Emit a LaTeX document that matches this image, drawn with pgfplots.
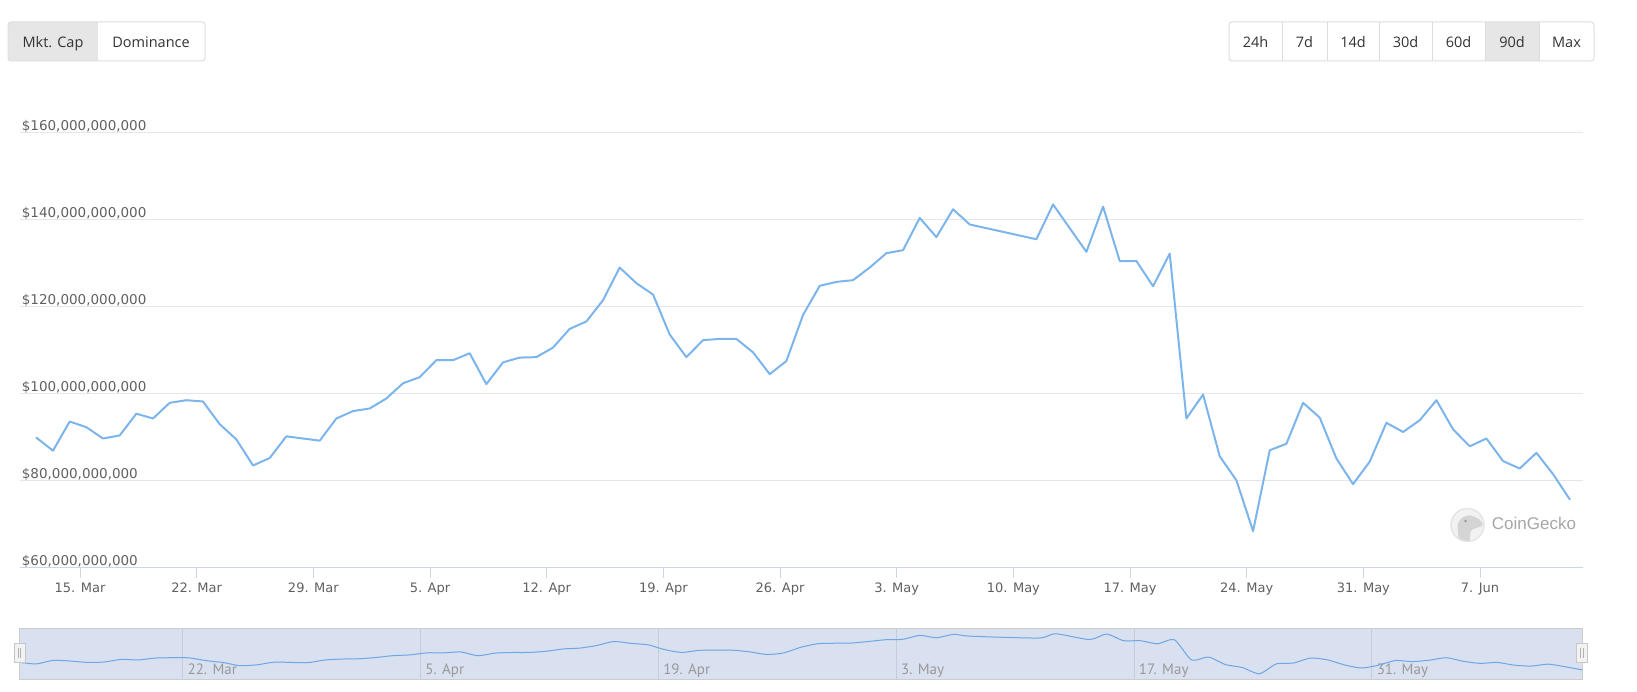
\documentclass[border=0pt]{standalone}
\usepackage{fontspec}
\setmainfont{Open Sans}
\newfontfamily\dejavu{DejaVu Sans}
\newfontfamily\ptsans{PT Sans}
\newfontfamily\libsans{Liberation Sans}
\usepackage{pgfplots}
\usepackage{pgfplotstable}
\pgfplotsset{compat=1.18}

\definecolor{hcline}{HTML}{7CB5EC}
\definecolor{hcgrid}{HTML}{E6E6E6}
\definecolor{hcaxis}{HTML}{CCD6EB}
\definecolor{labelgray}{HTML}{606060}
\definecolor{btntext}{HTML}{333333}
\definecolor{btnborder}{HTML}{DDDDDD}
\definecolor{btnsel}{HTML}{E6E6E6}
\definecolor{navfill}{HTML}{D9E0EF}
\definecolor{navline}{HTML}{6FA6E3}
\definecolor{navborder}{HTML}{CCCCCC}
\definecolor{navgrid}{HTML}{C6CCDA}
\definecolor{navlabel}{HTML}{999999}
\definecolor{wmgray}{HTML}{A6A6A6}

\pgfplotstableread{
x y
0 89.9
1 86.9
2 93.6
3 92.3
4 89.7
5 90.4
6 95.4
7 94.3
8 97.9
9 98.5
10 98.2
11 93.0
12 89.5
13 83.5
14 85.2
15 90.2
16 89.7
17 89.2
18 94.3
19 96.0
20 96.6
21 98.9
22 102.4
23 103.8
24 107.7
25 107.7
26 109.3
27 102.2
28 107.2
29 108.3
30 108.4
31 110.6
32 114.9
33 116.6
34 121.5
35 129.0
36 125.4
37 122.8
38 113.6
39 108.4
40 112.3
41 112.6
42 112.6
43 109.5
44 104.5
45 107.5
46 118.1
47 124.8
48 125.7
49 126.1
50 129.0
51 132.3
52 133.0
53 140.4
54 136.0
55 142.4
56 138.9
60 135.5
61 143.5
63 132.6
64 143.0
65 130.5
66 130.5
67 124.7
68 132.2
69 94.3
70 99.8
71 85.6
72 80.1
73 68.4
74 87.0
75 88.5
76 97.9
77 94.5
78 85.1
79 79.2
80 84.4
81 93.3
82 91.2
83 93.9
84 98.5
85 91.8
86 87.9
87 89.7
88 84.5
89 82.8
90 86.4
91 81.5
92 75.7
}\mcap

\newcommand\btnfont{\fontsize{14.5bp}{17bp}\selectfont}

\begin{document}
\begin{tikzpicture}[x=1bp,y=1bp]
\useasboundingbox (0,0) rectangle (1637,692);

% ---- left button group
\begin{scope}
\clip[rounded corners=3] (8,631) rectangle (205,670);
\fill[btnsel] (8,631) rectangle (97.5,670);
\end{scope}
\draw[btnborder, line width=1, rounded corners=3] (8,631) rectangle (205,670);
\node[font=\btnfont, text=btntext, anchor=base] at (53,644) {Mkt. Cap};
\node[font=\btnfont, text=btntext, anchor=base] at (151,644) {Dominance};

% ---- right button group
\begin{scope}
\clip[rounded corners=3] (1229,631) rectangle (1594,670);
\fill[btnsel] (1485,631) rectangle (1539,670);
\end{scope}
\draw[btnborder, line width=1, rounded corners=3] (1229,631) rectangle (1594,670);
\foreach \dx in {1282,1327,1379,1432,1485,1539}{
  \draw[btnborder, line width=1] (\dx,631) -- (\dx,670);
}
\foreach \cx/\t in {1255.5/24h,1304.5/7d,1353/14d,1405.5/30d,1458.5/60d,1512/90d,1566.5/Max}{
  \node[font=\btnfont, text=btntext, anchor=base] at (\cx,644) {\t};
}

% ---- main chart
\begin{axis}[
  at={(20bp,124.3bp)}, anchor=south west,
  scale only axis, width=1562.5bp, height=435bp,
  xmin=-0.98, xmax=92.77, ymin=60, ymax=160,
  axis x line*=bottom, axis y line*=left,
  y axis line style={draw=none},
  x axis line style={draw=hcaxis, line width=1bp, -},
  xtick={2.62,9.62,16.62,23.62,30.62,37.62,44.62,51.62,58.62,65.62,72.62,79.62,86.62},
  xticklabels={15. Mar,22. Mar,29. Mar,5. Apr,12. Apr,19. Apr,26. Apr,3. May,10. May,17. May,24. May,31. May,7. Jun},
  ytick={60,80,100,120,140,160},
  yticklabels={{\$60,000,000,000},{\$80,000,000,000},{\$100,000,000,000},{\$120,000,000,000},{\$140,000,000,000},{\$160,000,000,000}},
  ymajorgrids, grid style={draw=hcgrid, line width=1bp},
  tick align=outside,
  major tick length=10bp,
  xtick style={draw=hcaxis, line width=1bp},
  ytick style={draw=none},
  xticklabel style={font=\dejavu\fontsize{13bp}{15bp}\selectfont, text=labelgray, anchor=base, inner sep=0pt, yshift=-14.5bp},
  yticklabel style={font=\dejavu\fontsize{13.5bp}{15bp}\selectfont, text=labelgray, anchor=base west, inner sep=0pt, xshift=11.7bp, yshift=2.2bp},
]
\addplot[hcline, line width=2bp, line join=round, line cap=round] table[x=x,y=y]{\mcap};
\end{axis}

% ---- watermark
\begin{scope}
\fill[black!5] (1467.5,167) circle (16.5);
\clip (1467.5,167) circle (16.5);
\fill[black!17] (1459,150) -- (1457.5,164) .. controls (1457,175) and (1469,179) .. (1475,175)
  .. controls (1480,173) and (1484,169) .. (1482,166) .. controls (1478,164) and (1472,164) .. (1470.5,160)
  -- (1469.5,150) -- cycle;
\fill[black!40] (1465.5,171) circle (1.3);
\end{scope}
\draw[black!10, line width=1.5] (1467.5,167) circle (16.5);
\node[font=\libsans\fontsize{17bp}{20bp}\selectfont, text=wmgray, anchor=base west, inner sep=0pt] at (1491.7,162) {CoinGecko};

% ---- navigator
\begin{axis}[
  at={(19.3bp,12.7bp)}, anchor=south west,
  scale only axis, width=1563bp, height=50.6bp,
  xmin=0, xmax=92, ymin=58, ymax=153,
  axis background/.style={fill=navfill},
  axis line style={draw=navborder, line width=1bp},
  xtick={9.62,23.62,37.62,51.62,65.62,79.62},
  xticklabels={22. Mar,5. Apr,19. Apr,3. May,17. May,31. May},
  xmajorgrids, grid style={draw=navgrid, line width=1bp},
  ytick=\empty,
  major tick length=0pt,
  tick style={draw=none},
  xticklabel style={font=\ptsans\fontsize{15bp}{18bp}\selectfont, text=navlabel, anchor=base west, inner sep=0pt, xshift=4.7bp, yshift=4.3bp},
]
\addplot[navline, line width=1bp, smooth, tension=0.4] table[x=x,y=y]{\mcap};
\end{axis}

% navigator handles
\filldraw[fill=black!5, draw=black!22, line width=1] (14.3,29.3) rectangle (25,48.3);
\draw[black!30, line width=1] (18.3,34) -- (18.3,44) (20.9,34) -- (20.9,44);
\filldraw[fill=black!5, draw=black!22, line width=1] (1576.7,29.3) rectangle (1587.3,48.3);
\draw[black!30, line width=1] (1580.7,34) -- (1580.7,44) (1583.3,34) -- (1583.3,44);

\end{tikzpicture}
\end{document}
